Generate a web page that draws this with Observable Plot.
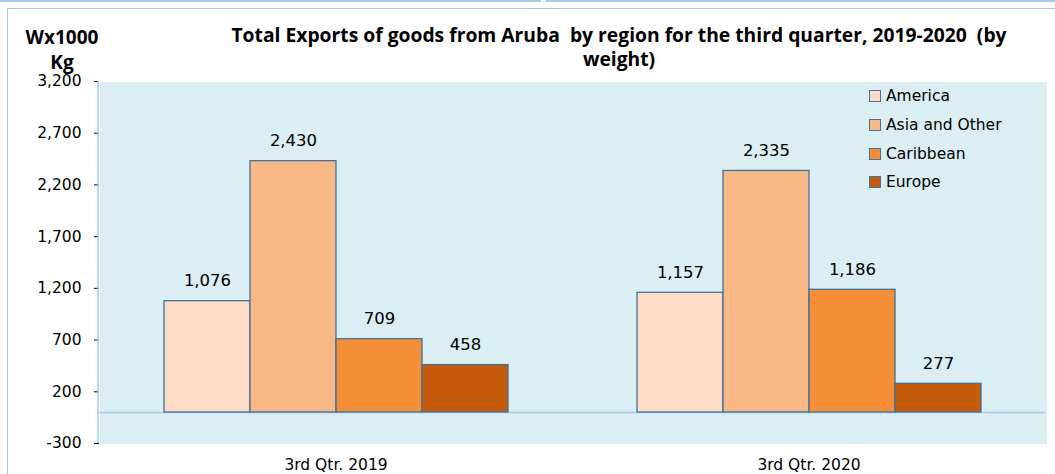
<!DOCTYPE html>
<html>
<head>
<meta charset="utf-8">
<script src="https://cdn.jsdelivr.net/npm/d3@7"></script>
<script src="https://cdn.jsdelivr.net/npm/@observablehq/plot@0.6"></script>
<style>
  html, body { margin: 0; padding: 0; background: #fff; }
  #wrap { position: relative; width: 1055px; height: 474px; overflow: hidden; font-family: "DejaVu Sans", sans-serif; }
  .topline { position: absolute; top: 0; height: 2px; background: #A9C9E6; }
  #box { position: absolute; left: 7px; top: 8px; width: 1100px; height: 500px; border-left: 1.5px solid #A9C9E6; border-top: 1.5px solid #A9C9E6; box-sizing: border-box; }
  #title { position: absolute; left: 169px; width: 900px; top: 23px; text-align: center; font-family: "Open Sans", sans-serif; font-weight: bold; font-size: 19.3px; line-height: 24px; white-space: pre; color: #000; }
  #ylab { position: absolute; left: 12px; width: 100px; top: 25px; text-align: center; font-family: "Open Sans", sans-serif; font-weight: bold; font-size: 19px; line-height: 25px; color: #000; }
  #chart { position: absolute; left: 0; top: 0; }
  #legend { position: absolute; left: 869px; top: 82px; font-family: "DejaVu Sans", sans-serif; font-size: 15.5px; color: #000; }
  .li { display: flex; align-items: center; height: 28.7px; }
  .sw { width: 10px; height: 10px; border: 1.5px solid #41719C; margin-right: 5px; }
  #chart svg [aria-label="y-axis tick"] { stroke: #A9C9E6; }
  #chart svg [aria-label="y-axis tick label"] { font-size: 15.5px; }
  #chart svg [aria-label="fx-axis tick label"] { font-size: 15.5px; }
</style>
</head>
<body>
<div id="wrap">
  <div class="topline" style="left:0;width:541px"></div>
  <div class="topline" style="left:546px;width:509px"></div>
  <div id="box"></div>
  <div id="chart"></div>
  <div id="title">Total Exports of goods from Aruba  by region for the third quarter, 2019-2020  (by
weight)</div>
  <div id="ylab">Wx1000<br>Kg</div>
  <div id="legend"></div>
</div>
<script>
const quarters = ["3rd Qtr. 2019", "3rd Qtr. 2020"];
const regions = ["America", "Asia and Other", "Caribbean", "Europe"];
const values2019 = [1076, 2430, 709, 458];
const values2020 = [1157, 2335, 1186, 277];
const regionColors = ["#FCDCC4", "#F9B986", "#F48E37", "#C55B0A"];
const yTicks = [-300, 200, 700, 1200, 1700, 2200, 2700, 3200];

const data = [];
regions.forEach((r, i) => data.push({quarter: quarters[0], region: r, value: values2019[i]}));
regions.forEach((r, i) => data.push({quarter: quarters[1], region: r, value: values2020[i]}));

const fmt = d => d.toLocaleString("en-US");
const lightBlue = "#A9C9E6";
const W = 1055, H = 474, mL = 98, mR = 10, mT = 81, mB = 31;

const plot = Plot.plot({
  width: W, height: H,
  marginTop: mT, marginBottom: mB, marginLeft: mL, marginRight: mR,
  style: {fontFamily: "DejaVu Sans, sans-serif", fontSize: "15.5px", background: "transparent", color: "#000", overflow: "visible"},
  fx: {domain: quarters, padding: 0, axis: "bottom", label: null, tickSize: 0, tickPadding: 15},
  x: {domain: regions, axis: null, paddingInner: 0, paddingOuter: 0.737},
  y: {domain: [-300, 3200], ticks: yTicks, tickFormat: fmt, label: null, tickSize: 5, tickPadding: 13},
  color: {domain: regions, range: regionColors},
  marks: [
    Plot.frame({fill: "#DAEEF3", stroke: null, insetRight: -1, shapeRendering: "crispEdges"}),
    Plot.ruleY([0], {stroke: lightBlue, strokeWidth: 1.5}),
    Plot.barY(data, {fx: "quarter", x: "region", y: "value", fill: "region", stroke: "#41719C", strokeWidth: 1.3}),
    Plot.text(data, {fx: "quarter", x: "region", y: "value", text: d => fmt(d.value), dy: -20, fontSize: 16.5, fill: "#000"})
  ]
});

document.getElementById("chart").appendChild(plot);

// left axis line on the plot's left edge
const svg = d3.select(plot);
const ys = plot.scale("y");
svg.append("line").attr("x1", mL).attr("x2", mL).attr("y1", ys.apply(3200)).attr("y2", ys.apply(-300)).attr("stroke", lightBlue).attr("stroke-width", 1.5);

// legend
const leg = document.getElementById("legend");
regions.forEach((r, i) => {
  const row = document.createElement("div");
  row.className = "li";
  const sw = document.createElement("div");
  sw.className = "sw";
  sw.style.background = regionColors[i];
  const t = document.createElement("span");
  t.textContent = r;
  row.appendChild(sw); row.appendChild(t);
  leg.appendChild(row);
});
</script>
</body>
</html>
